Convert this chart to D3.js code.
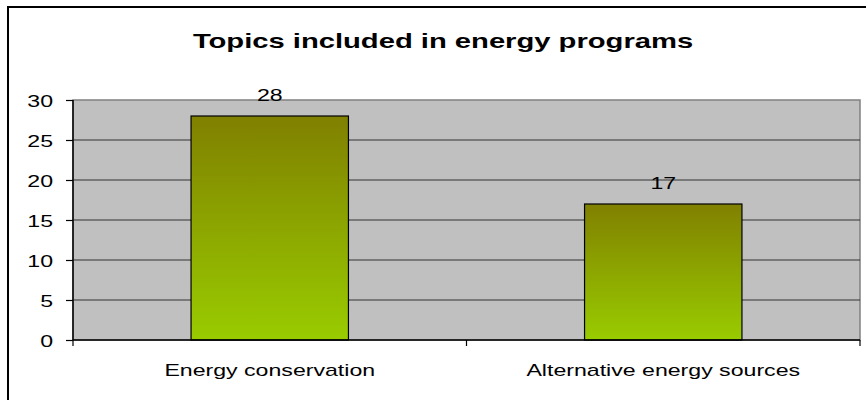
<!DOCTYPE html>
<html><head><meta charset="utf-8">
<script src="https://cdn.jsdelivr.net/npm/d3@7"></script>
<style>body{margin:0;background:#fff}svg{display:block}text{font-family:Arial,"Liberation Sans",sans-serif}</style>
</head><body><div id="chart"></div>
<script>
const title = "Topics included in energy programs";
const categories = ["Energy conservation", "Alternative energy sources"];
const values = [28, 17];
const yTicks = [0, 5, 10, 15, 20, 25, 30];

const W = 866, H = 400;
const m = {left: 73, top: 100, right: 6, bottom: 60};
const SX = 1.36;

const svg = d3.select("#chart").append("svg").attr("width", W).attr("height", H);
const defs = svg.append("defs");
const grad = defs.append("linearGradient").attr("id", "barGrad").attr("x1", 0).attr("y1", 0).attr("x2", 0).attr("y2", 1);
grad.append("stop").attr("offset", "0%").attr("stop-color", "#808000");
grad.append("stop").attr("offset", "100%").attr("stop-color", "#99CC00");

// outer border
svg.append("rect").attr("x", 8).attr("y", 7).attr("width", W + 20).attr("height", H + 20)
  .attr("fill", "none").attr("stroke", "#000").attr("stroke-width", 2);

const x = d3.scaleBand().domain(categories).range([m.left, W - m.right]).paddingInner(0.6).paddingOuter(0.3);
const xb = d3.scaleBand().domain(categories).range([m.left, W - m.right]);
const y = d3.scaleLinear().domain([0, 30]).range([340, m.top]);

function stretchedText(sel, tx, ty, sx) {
  return sel.attr("transform", `translate(${tx},${ty}) scale(${sx || SX},1)`);
}

// plot area
svg.append("rect").attr("x", m.left).attr("y", y(30)).attr("width", W - m.right - m.left).attr("height", y(0) - y(30))
  .attr("fill", "#C0C0C0").attr("stroke", "#808080").attr("stroke-width", 1.5);

// gridlines
svg.append("g").selectAll("line").data(yTicks.filter(t => t > 0 && t < 30)).join("line")
  .attr("x1", m.left).attr("x2", W - m.right).attr("y1", d => y(d)).attr("y2", d => y(d))
  .attr("stroke", "#333").attr("stroke-width", 1.2);

// bars
svg.append("g").selectAll("rect").data(values).join("rect")
  .attr("x", (d, i) => x(categories[i])).attr("width", x.bandwidth())
  .attr("y", d => y(d)).attr("height", d => y(0) - y(d))
  .attr("fill", "url(#barGrad)").attr("stroke", "#000").attr("stroke-width", 1.2);

// value labels
svg.append("g").selectAll("text").data(values).join("text")
  .each(function(d, i) {
    stretchedText(d3.select(this), x(categories[i]) + x.bandwidth() / 2, y(d) - 15);
  })
  .attr("text-anchor", "middle").attr("font-size", 17).attr("fill", "#000").text(d => d);

// y axis
const yAxis = svg.append("g").attr("transform", `translate(${m.left},0)`)
  .call(d3.axisLeft(y).tickValues(yTicks).tickSize(7).tickPadding(0).tickFormat(""));
yAxis.select(".domain").attr("stroke", "#000").attr("stroke-width", 1.5).attr("d", `M0,${y(30)}V${y(0)}`);
yAxis.selectAll(".tick line").attr("stroke", "#000").attr("stroke-width", 1.2);
yAxis.selectAll(".tick").append("text").each(function(d) {
  stretchedText(d3.select(this), -20, 6);
}).attr("text-anchor", "end").attr("font-size", 17).attr("fill", "#000").text(d => d);

// x axis
const xg = svg.append("g").attr("transform", `translate(0,${y(0)})`);
xg.append("line").attr("x1", m.left).attr("x2", W - m.right).attr("y1", 0).attr("y2", 0)
  .attr("stroke", "#000").attr("stroke-width", 1.5);
const bounds = [m.left, ...categories.map(c => xb(c) + xb.bandwidth())];
xg.selectAll("line.tk").data(bounds).join("line").attr("class", "tk")
  .attr("x1", d => d).attr("x2", d => d).attr("y1", 0).attr("y2", 6)
  .attr("stroke", "#000").attr("stroke-width", 1.2);
xg.selectAll("text").data(categories).join("text")
  .each(function(c) { stretchedText(d3.select(this), xb(c) + xb.bandwidth() / 2, 36); })
  .attr("text-anchor", "middle").attr("font-size", 17).attr("fill", "#000").text(c => c);

// title
stretchedText(svg.append("text"), 443, 48, 1.39)
  .attr("text-anchor", "middle").attr("font-size", 21).attr("font-weight", "bold").attr("fill", "#000").text(title);
</script></body></html>
